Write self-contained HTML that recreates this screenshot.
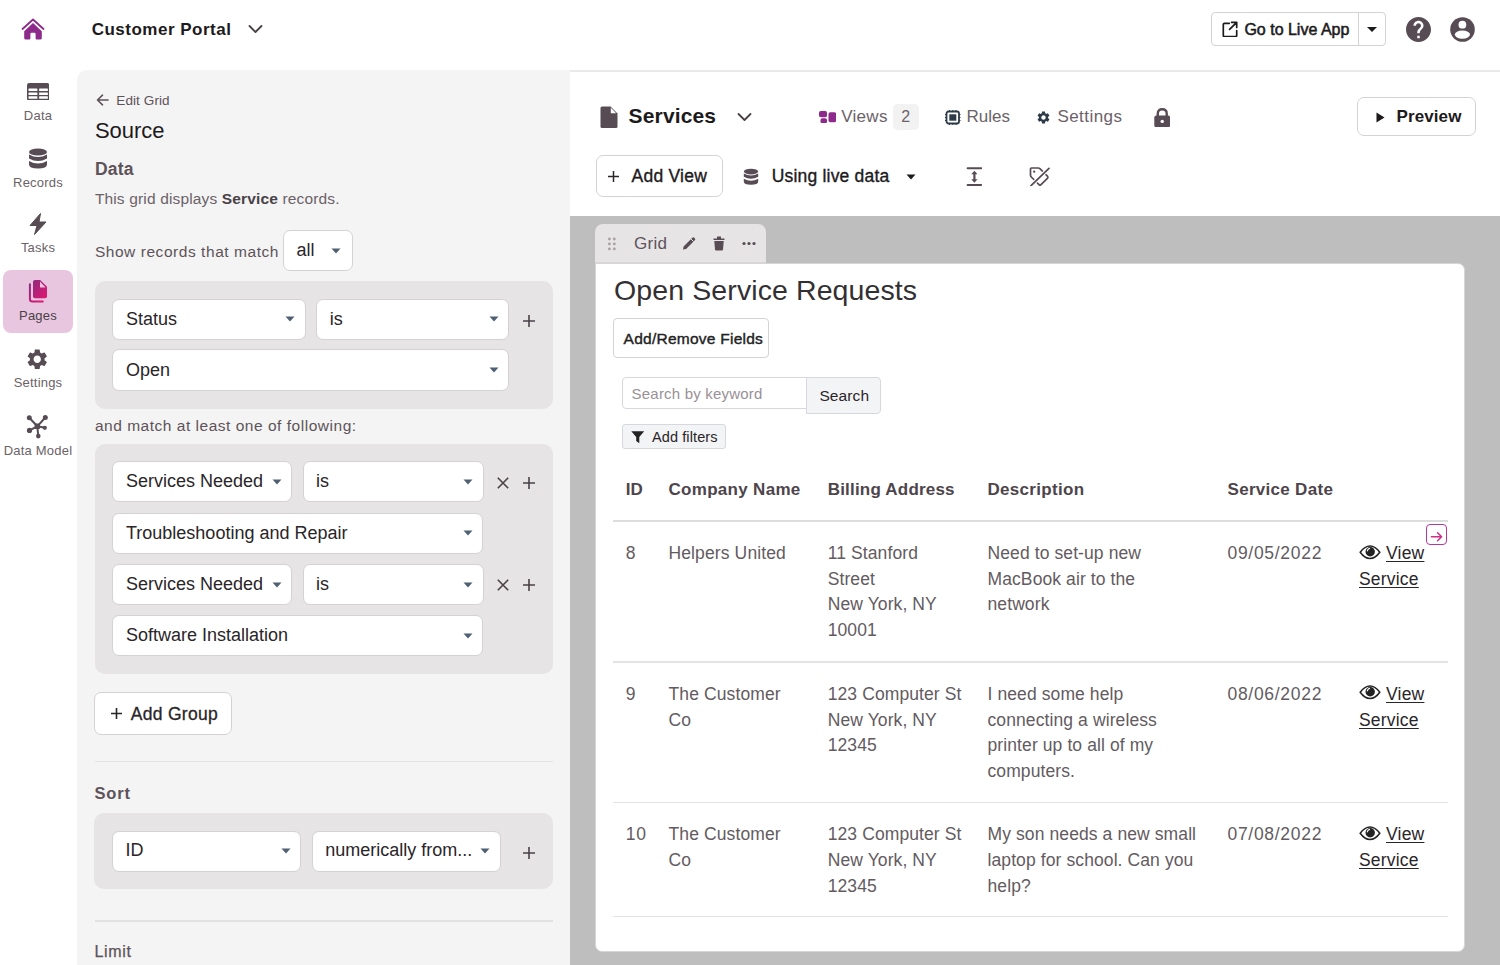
<!DOCTYPE html>
<html><head><meta charset="utf-8"><style>
html,body{margin:0;padding:0;width:1500px;height:965px;overflow:hidden;background:#fff;font-family:"Liberation Sans", sans-serif;}
.t{position:absolute;white-space:nowrap;}
.r{position:absolute;box-sizing:border-box;}
</style></head><body>
<div class="r" style="left:77px;top:70px;width:493px;height:895px;background:#f4f4f4;border-top-left-radius:10px;"></div>
<div class="r" style="left:570px;top:70px;width:930px;height:2px;background:#ebe8ea;"></div>
<div class="r" style="left:570px;top:216px;width:930px;height:749px;background:#bebebe;"></div>
<svg class="r" style="left:21px;top:18px;" width="24" height="23" viewBox="0 0 24 23"><path d="M1.5 11 L12 1.5 L22.5 11" fill="none" stroke="#8e2a8b" stroke-width="1.8" stroke-linecap="round" stroke-linejoin="round"/><path d="M12 4.9 L20.8 13.2 V20 Q20.8 21.5 19.3 21.5 H15.6 Q14.6 21.5 14.6 20.5 V16 Q14.6 14.7 13.3 14.7 H10.7 Q9.4 14.7 9.4 16 V20.5 Q9.4 21.5 8.4 21.5 H4.7 Q3.2 21.5 3.2 20 V13.2 Z" fill="#8e2a8b"/></svg>
<div class="t" style="left:91.7px;top:20.0px;font-size:17px;line-height:19.55px;color:#1d1a1c;font-weight:700;letter-spacing:0.5px;">Customer Portal</div>
<svg class="r" style="left:248px;top:24px;" width="15" height="10" viewBox="0 0 15 10"><path d="M1.5 2 L7.5 8 L13.5 2" fill="none" stroke="#4a4147" stroke-width="1.8" stroke-linecap="round" stroke-linejoin="round"/></svg>
<div class="r" style="left:1211px;top:12px;width:175px;height:34px;border:1px solid #d5d2d4;border-radius:4px;background:#fff;"></div>
<div class="r" style="left:1358px;top:13px;width:1px;height:32px;background:#d5d2d4;"></div>
<svg class="r" style="left:1222px;top:21px;" width="16" height="16" viewBox="0 0 16 16"><path d="M7.3 2.3 H2.4 Q1.3 2.3 1.3 3.4 V14.6 Q1.3 15.7 2.4 15.7 H13.6 Q14.7 15.7 14.7 14.6 V9.7" fill="none" stroke="#1d1a1c" stroke-width="1.7" stroke-linecap="round"/><path d="M9.6 1.3 H14.7 V6.4 M14.4 1.6 L7.6 8.4" fill="none" stroke="#1d1a1c" stroke-width="1.7" stroke-linecap="round" stroke-linejoin="round"/></svg>
<div class="t" style="left:1244.4px;top:20.5px;font-size:16px;line-height:18.4px;color:#1d1a1c;font-weight:400;letter-spacing:0px;-webkit-text-stroke:0.55px #1d1a1c;">Go to Live App</div>
<svg class="r" style="left:1366px;top:26px;" width="12" height="7" viewBox="0 0 12 7"><path d="M1 1 H11 L6 6 Z" fill="#1d1a1c"/></svg>
<svg class="r" style="left:1406px;top:17px;" width="25" height="25" viewBox="2 2 20 20"><path fill="#574c53" d="M12 2C6.48 2 2 6.48 2 12s4.48 10 10 10 10-4.48 10-10S17.52 2 12 2zm1 17h-2v-2h2v2zm2.07-7.75l-.9.92C13.450 12.9 13 13.5 13 15h-2v-.5c0-1.1.45-2.1 1.17-2.83l1.24-1.26c.37-.36.59-.86.59-1.41 0-1.1-.9-2-2-2s-2 .9-2 2H8c0-2.21 1.79-4 4-4s4 1.790 4 4c0 .88-.36 1.68-.93 2.25z"/></svg>
<svg class="r" style="left:1450px;top:17px;" width="25" height="25" viewBox="0 0 25 25"><circle cx="12.5" cy="12.5" r="12.3" fill="#574c53"/><circle cx="12.4" cy="7.7" r="3.9" fill="#fff"/><ellipse cx="12.4" cy="17.6" rx="7.6" ry="4.2" fill="#fff"/></svg>
<div class="r" style="left:3px;top:270px;width:70px;height:63px;background:#e8c6e0;border-radius:8px;"></div>
<svg class="r" style="left:26.7px;top:82.9px;" width="22.3" height="17.6" viewBox="0 0 22.3 17.6"><rect x="0" y="0" width="22.3" height="17.6" rx="2.2" fill="#574c53"/><g fill="#fff"><rect x="1.5" y="5.4" width="8.9" height="2.5" rx="0.5"/><rect x="12.1" y="5.4" width="8.8" height="2.5" rx="0.5"/><rect x="1.5" y="9.4" width="8.9" height="2.5" rx="0.5"/><rect x="12.1" y="9.4" width="8.8" height="2.5" rx="0.5"/><rect x="1.5" y="13.3" width="8.9" height="2.5" rx="0.5"/><rect x="12.1" y="13.3" width="8.8" height="2.5" rx="0.5"/></g></svg>
<div class="t" style="left:38.0px;top:108.5px;font-size:13px;line-height:14.95px;color:#6b6268;font-weight:400;letter-spacing:0.2px;transform:translateX(-50%);">Data</div>
<svg class="r" style="left:28px;top:148px;" width="20" height="21" viewBox="0 0 20 21"><ellipse cx="10" cy="4" rx="9" ry="3.6" fill="#574c53"/><path d="M1 6.5 Q10 11.5 19 6.5 V10.5 Q10 15.5 1 10.5 Z" fill="#574c53"/><path d="M1 13 Q10 18 19 13 V16.5 Q19 20.5 10 20.5 Q1 20.5 1 16.5 Z" fill="#574c53"/></svg>
<div class="t" style="left:38.0px;top:175.9px;font-size:13px;line-height:14.95px;color:#6b6268;font-weight:400;letter-spacing:0.2px;transform:translateX(-50%);">Records</div>
<svg class="r" style="left:28px;top:213px;" width="20" height="22" viewBox="0 0 20 22"><path d="M12.5 0.5 L2 12.5 H9 L6.5 21.5 L18 9 H11 Z" fill="#574c53" stroke="#574c53" stroke-width="1" stroke-linejoin="round"/></svg>
<div class="t" style="left:38.0px;top:240.9px;font-size:13px;line-height:14.95px;color:#6b6268;font-weight:400;letter-spacing:0.2px;transform:translateX(-50%);">Tasks</div>
<svg class="r" style="left:28px;top:279px;" width="21" height="25" viewBox="0 0 21 25"><defs><linearGradient id="pg" x1="0" y1="0" x2="1" y2="1"><stop offset="0" stop-color="#8f2a7e"/><stop offset="1" stop-color="#e2186f"/></linearGradient></defs><path d="M1.9 5.3 V20 Q1.9 22.6 4.5 22.6 H14.8" fill="none" stroke="url(#pg)" stroke-width="2" stroke-linecap="round"/><path d="M5 3 Q5 1 7 1 H12.2 L19 7.8 V17.3 Q19 19.3 17 19.3 H7 Q5 19.3 5 17.3 Z" fill="url(#pg)"/><path d="M12 2.6 V8.4 H17.6 Z" fill="#e8c6e0"/></svg>
<div class="t" style="left:38.0px;top:309.0px;font-size:13px;line-height:14.95px;color:#4a4147;font-weight:400;letter-spacing:0.2px;transform:translateX(-50%);">Pages</div>
<svg class="r" style="left:25.2px;top:347.2px;" width="24.5" height="24.5" viewBox="0 0 24 24"><path fill="#574c53" d="M19.14 12.94c.04-.3.06-.61.06-.94 0-.32-.02-.64-.07-.94l2.03-1.58a.49.49 0 0 0 .12-.61l-1.92-3.32a.488.488 0 0 0-.59-.22l-2.39.96c-.5-.38-1.03-.7-1.62-.94l-.36-2.54a.484.484 0 0 0-.48-.41h-3.84c-.24 0-.43.17-.47.41l-.36 2.54c-.59.24-1.13.57-1.62.94l-2.39-.96c-.22-.08-.47 0-.59.22L2.74 8.87c-.12.21-.08.47.12.61l2.03 1.58c-.05.3-.09.63-.09.94s.02.64.07.94l-2.03 1.58a.49.49 0 0 0-.12.61l1.92 3.32c.12.22.37.29.59.22l2.39-.96c.5.38 1.03.7 1.62.94l.36 2.54c.05.24.24.41.48.41h3.84c.24 0 .44-.17.47-.41l.36-2.54c.59-.24 1.13-.56 1.62-.94l2.39.96c.22.08.47 0 .59-.22l1.92-3.32c.12-.22.07-.47-.12-.61l-2.01-1.58zM12 15.6c-1.98 0-3.6-1.62-3.6-3.6s1.62-3.6 3.6-3.6 3.6 1.62 3.6 3.6-1.62 3.6-3.6 3.6z"/></svg>
<div class="t" style="left:38.0px;top:375.8px;font-size:13px;line-height:14.95px;color:#6b6268;font-weight:400;letter-spacing:0.2px;transform:translateX(-50%);">Settings</div>
<svg class="r" style="left:26px;top:414px;" width="23" height="26" viewBox="0 0 23 26"><g stroke="#574c53" stroke-width="2" stroke-linecap="round"><line x1="11.3" y1="12.3" x2="3.3" y2="3.8"/><line x1="11.3" y1="12.3" x2="19.3" y2="3.5"/><line x1="11.3" y1="12.3" x2="3.5" y2="16.4"/><line x1="11.3" y1="12.3" x2="18.8" y2="13.8"/><line x1="11.3" y1="12.3" x2="12.3" y2="22.1"/></g><g fill="#574c53"><circle cx="3.3" cy="3.8" r="2.5"/><circle cx="19.3" cy="3.5" r="2.5"/><circle cx="3.5" cy="16.4" r="2.6"/><circle cx="18.8" cy="13.8" r="2.1"/><circle cx="12.3" cy="22.1" r="2.3"/><rect x="8.6" y="9.6" width="5.4" height="5.4" rx="0.8"/></g></svg>
<div class="t" style="left:38.0px;top:443.8px;font-size:13px;line-height:14.95px;color:#6b6268;font-weight:400;letter-spacing:0.2px;transform:translateX(-50%);">Data Model</div>
<svg class="r" style="left:96px;top:94px;" width="13" height="12" viewBox="0 0 13 12"><path d="M12 6 H1.8 M6.5 1.2 L1.5 6 L6.5 10.8" fill="none" stroke="#5d5359" stroke-width="1.6" stroke-linecap="round" stroke-linejoin="round"/></svg>
<div class="t" style="left:116.3px;top:92.5px;font-size:13.5px;line-height:15.52px;color:#5d5359;font-weight:400;letter-spacing:0.1px;">Edit Grid</div>
<div class="t" style="left:94.9px;top:118.1px;font-size:22px;line-height:25.3px;color:#1d1a1c;font-weight:400;letter-spacing:0px;">Source</div>
<div class="t" style="left:94.9px;top:159.2px;font-size:17.5px;line-height:20.12px;color:#5d5359;font-weight:700;letter-spacing:0.2px;">Data</div>
<div class="t" style="left:94.9px;top:190.0px;font-size:15.5px;line-height:17.82px;color:#6b6268;font-weight:400;letter-spacing:0.15px;">This grid displays <b style="color:#4a4147">Service</b> records.</div>
<div class="t" style="left:94.9px;top:242.8px;font-size:15.5px;line-height:17.82px;color:#5d5359;font-weight:400;letter-spacing:0.55px;">Show records that match</div>
<div class="r" style="left:283px;top:229.6px;width:69.5px;height:41.400000000000006px;background:#fff;border:1px solid #d5d2d4;border-radius:7px;"></div>
<div class="t" style="left:296.5px;top:239.9px;font-size:18px;line-height:20.7px;color:#2a2528;font-weight:400;letter-spacing:0px;">all</div>
<svg class="r" style="left:331.2px;top:248px;" width="10" height="6" viewBox="0 0 10 6"><path d="M0.5 0.5 H9.5 L5 5.5 Z" fill="#4f6073"/></svg>
<div class="r" style="left:94.5px;top:281px;width:458.5px;height:127.60000000000002px;background:#e6e4e5;border-radius:10px;"></div>
<div class="r" style="left:112px;top:298.7px;width:194px;height:41.30000000000001px;background:#fff;border:1px solid #d5d2d4;border-radius:7px;"></div>
<div class="t" style="left:126.0px;top:309.4px;font-size:18px;line-height:20.7px;color:#2a2528;font-weight:400;letter-spacing:0px;">Status</div>
<svg class="r" style="left:285px;top:316.35px;" width="10" height="6" viewBox="0 0 10 6"><path d="M0.5 0.5 H9.5 L5 5.5 Z" fill="#4f6073"/></svg>
<div class="r" style="left:316px;top:298.7px;width:193px;height:41.30000000000001px;background:#fff;border:1px solid #d5d2d4;border-radius:7px;"></div>
<div class="t" style="left:329.7px;top:309.4px;font-size:18px;line-height:20.7px;color:#2a2528;font-weight:400;letter-spacing:0px;">is</div>
<svg class="r" style="left:488.5px;top:316.35px;" width="10" height="6" viewBox="0 0 10 6"><path d="M0.5 0.5 H9.5 L5 5.5 Z" fill="#4f6073"/></svg>
<svg class="r" style="left:522.5px;top:314.5px;" width="12" height="12" viewBox="0 0 12 12"><path d="M6.0 0 V12 M0 6.0 H12" stroke="#4a4147" stroke-width="1.6"/></svg>
<div class="r" style="left:112px;top:349.4px;width:397px;height:41.60000000000002px;background:#fff;border:1px solid #d5d2d4;border-radius:7px;"></div>
<div class="t" style="left:126.0px;top:360.0px;font-size:18px;line-height:20.7px;color:#2a2528;font-weight:400;letter-spacing:0px;">Open</div>
<svg class="r" style="left:488.5px;top:367.2px;" width="10" height="6" viewBox="0 0 10 6"><path d="M0.5 0.5 H9.5 L5 5.5 Z" fill="#4f6073"/></svg>
<div class="t" style="left:94.9px;top:417.4px;font-size:15.5px;line-height:17.82px;color:#5d5359;font-weight:400;letter-spacing:0.52px;">and match at least one of following:</div>
<div class="r" style="left:94.5px;top:443.5px;width:458.5px;height:230.29999999999995px;background:#e6e4e5;border-radius:10px;"></div>
<div class="r" style="left:112.4px;top:461px;width:179.99999999999997px;height:41px;background:#fff;border:1px solid #d5d2d4;border-radius:7px;"></div>
<div class="t" style="left:126.0px;top:471.0px;font-size:18px;line-height:20.7px;color:#2a2528;font-weight:400;letter-spacing:0px;">Services Needed</div>
<svg class="r" style="left:272.3px;top:478.5px;" width="10" height="6" viewBox="0 0 10 6"><path d="M0.5 0.5 H9.5 L5 5.5 Z" fill="#4f6073"/></svg>
<div class="r" style="left:303px;top:461px;width:180.5px;height:41px;background:#fff;border:1px solid #d5d2d4;border-radius:7px;"></div>
<div class="t" style="left:316.1px;top:471.0px;font-size:18px;line-height:20.7px;color:#2a2528;font-weight:400;letter-spacing:0px;">is</div>
<svg class="r" style="left:462.8px;top:478.5px;" width="10" height="6" viewBox="0 0 10 6"><path d="M0.5 0.5 H9.5 L5 5.5 Z" fill="#4f6073"/></svg>
<svg class="r" style="left:497.0px;top:476.5px;" width="12" height="12" viewBox="0 0 12 12"><path d="M0.8 0.8 L11.2 11.2 M11.2 0.8 L0.8 11.2" stroke="#4a4147" stroke-width="1.6"/></svg>
<svg class="r" style="left:522.7px;top:476.5px;" width="12" height="12" viewBox="0 0 12 12"><path d="M6.0 0 V12 M0 6.0 H12" stroke="#4a4147" stroke-width="1.6"/></svg>
<div class="r" style="left:112.4px;top:512.6px;width:371.1px;height:41.0px;background:#fff;border:1px solid #d5d2d4;border-radius:7px;"></div>
<div class="t" style="left:126.0px;top:522.6px;font-size:18px;line-height:20.7px;color:#2a2528;font-weight:400;letter-spacing:0px;">Troubleshooting and Repair</div>
<svg class="r" style="left:462.8px;top:530.1px;" width="10" height="6" viewBox="0 0 10 6"><path d="M0.5 0.5 H9.5 L5 5.5 Z" fill="#4f6073"/></svg>
<div class="r" style="left:112.4px;top:563.8px;width:179.99999999999997px;height:41.60000000000002px;background:#fff;border:1px solid #d5d2d4;border-radius:7px;"></div>
<div class="t" style="left:126.0px;top:574.0px;font-size:18px;line-height:20.7px;color:#2a2528;font-weight:400;letter-spacing:0px;">Services Needed</div>
<svg class="r" style="left:272.3px;top:581.5999999999999px;" width="10" height="6" viewBox="0 0 10 6"><path d="M0.5 0.5 H9.5 L5 5.5 Z" fill="#4f6073"/></svg>
<div class="r" style="left:303px;top:563.8px;width:180.5px;height:41.60000000000002px;background:#fff;border:1px solid #d5d2d4;border-radius:7px;"></div>
<div class="t" style="left:316.1px;top:574.0px;font-size:18px;line-height:20.7px;color:#2a2528;font-weight:400;letter-spacing:0px;">is</div>
<svg class="r" style="left:462.8px;top:581.5999999999999px;" width="10" height="6" viewBox="0 0 10 6"><path d="M0.5 0.5 H9.5 L5 5.5 Z" fill="#4f6073"/></svg>
<svg class="r" style="left:497.0px;top:579.3px;" width="12" height="12" viewBox="0 0 12 12"><path d="M0.8 0.8 L11.2 11.2 M11.2 0.8 L0.8 11.2" stroke="#4a4147" stroke-width="1.6"/></svg>
<svg class="r" style="left:522.7px;top:579.3px;" width="12" height="12" viewBox="0 0 12 12"><path d="M6.0 0 V12 M0 6.0 H12" stroke="#4a4147" stroke-width="1.6"/></svg>
<div class="r" style="left:112.4px;top:615.3px;width:371.1px;height:41.0px;background:#fff;border:1px solid #d5d2d4;border-radius:7px;"></div>
<div class="t" style="left:126.0px;top:625.3px;font-size:18px;line-height:20.7px;color:#2a2528;font-weight:400;letter-spacing:0px;">Software Installation</div>
<svg class="r" style="left:462.8px;top:632.8px;" width="10" height="6" viewBox="0 0 10 6"><path d="M0.5 0.5 H9.5 L5 5.5 Z" fill="#4f6073"/></svg>
<div class="r" style="left:94.4px;top:692.4px;width:137.29999999999998px;height:42.200000000000045px;background:#fff;border:1px solid #d5d2d4;border-radius:7px;"></div>
<svg class="r" style="left:111.3px;top:708.0px;" width="11" height="11" viewBox="0 0 11 11"><path d="M5.5 0 V11 M0 5.5 H11" stroke="#2a2528" stroke-width="1.6"/></svg>
<div class="t" style="left:130.7px;top:704.1px;font-size:17.5px;line-height:20.12px;color:#2a2528;font-weight:400;letter-spacing:0.3px;-webkit-text-stroke:0.3px #2a2528;">Add Group</div>
<div class="r" style="left:94.5px;top:760.5px;width:458.5px;height:1.5px;background:#e3e1e2;"></div>
<div class="t" style="left:94.4px;top:783.5px;font-size:16.5px;line-height:18.97px;color:#5d5359;font-weight:700;letter-spacing:0.9px;">Sort</div>
<div class="r" style="left:94.4px;top:813.4px;width:458.6px;height:75.80000000000007px;background:#e6e4e5;border-radius:10px;"></div>
<div class="r" style="left:112.2px;top:830.5px;width:189.2px;height:41.5px;background:#fff;border:1px solid #d5d2d4;border-radius:7px;"></div>
<div class="t" style="left:125.4px;top:839.9px;font-size:18px;line-height:20.7px;color:#2a2528;font-weight:400;letter-spacing:0px;">ID</div>
<svg class="r" style="left:280.7px;top:848.25px;" width="10" height="6" viewBox="0 0 10 6"><path d="M0.5 0.5 H9.5 L5 5.5 Z" fill="#4f6073"/></svg>
<div class="r" style="left:311.6px;top:830.8px;width:189.09999999999997px;height:41.200000000000045px;background:#fff;border:1px solid #d5d2d4;border-radius:7px;"></div>
<div class="t" style="left:325.2px;top:839.9px;font-size:18px;line-height:20.7px;color:#2a2528;font-weight:400;letter-spacing:0px;">numerically from...</div>
<svg class="r" style="left:480px;top:848.4px;" width="10" height="6" viewBox="0 0 10 6"><path d="M0.5 0.5 H9.5 L5 5.5 Z" fill="#4f6073"/></svg>
<svg class="r" style="left:522.6px;top:846.6px;" width="12" height="12" viewBox="0 0 12 12"><path d="M6.0 0 V12 M0 6.0 H12" stroke="#4a4147" stroke-width="1.6"/></svg>
<div class="r" style="left:94.5px;top:920.3px;width:458.5px;height:1.5px;background:#e3e1e2;"></div>
<div class="t" style="left:94.4px;top:943.3px;font-size:16px;line-height:18.4px;color:#5d5359;font-weight:400;letter-spacing:0.7px;-webkit-text-stroke:0.25px #5d5359;">Limit</div>
<svg class="r" style="left:600px;top:105.5px;" width="18" height="22.5" viewBox="0 0 18 22.5"><path d="M2 0.5 H10.5 L17.5 7.5 V20.5 Q17.5 22 16 22 H2 Q0.5 22 0.5 20.5 V2 Q0.5 0.5 2 0.5 Z" fill="#574c53"/><path d="M10.8 1.8 V7.2 H16.2 Z" fill="#fff"/></svg>
<div class="t" style="left:628.6px;top:104.1px;font-size:21px;line-height:24.15px;color:#1d1a1c;font-weight:700;letter-spacing:0.15px;">Services</div>
<svg class="r" style="left:737px;top:111.5px;" width="15" height="10" viewBox="0 0 15 10"><path d="M1.5 2 L7.5 8 L13.5 2" fill="none" stroke="#4a4147" stroke-width="1.8" stroke-linecap="round" stroke-linejoin="round"/></svg>
<svg class="r" style="left:818.5px;top:110.8px;" width="17.5" height="12.5" viewBox="0 0 17.5 12.5"><rect x="0" y="0" width="8" height="6.2" rx="1.8" fill="#8e2a8b"/><rect x="1.5" y="7.3" width="6.5" height="4.9" rx="1.8" fill="#8e2a8b"/><rect x="9.5" y="1.2" width="7.7" height="10" rx="1.8" fill="#8e2a8b"/></svg>
<div class="t" style="left:841.2px;top:107.4px;font-size:17px;line-height:19.55px;color:#6b6268;font-weight:400;letter-spacing:0.3px;">Views</div>
<div class="r" style="left:893px;top:104px;width:25.5px;height:25.599999999999994px;background:#f2f2f2;border-radius:5px;"></div>
<div class="t" style="left:901.2px;top:108.4px;font-size:16px;line-height:18.4px;color:#6b6268;font-weight:400;letter-spacing:0px;">2</div>
<svg class="r" style="left:945px;top:109.8px;" width="15.5" height="15" viewBox="0 0 15.5 15"><rect x="1.5" y="1.5" width="12.5" height="12" rx="2" fill="none" stroke="#2d3b48" stroke-width="1.8"/><rect x="4.3" y="4.3" width="7" height="6.4" fill="#2d3b48"/><g stroke="#2d3b48" stroke-width="1"><path d="M4.5 0 V1.5 M7.75 0 V1.5 M11 0 V1.5 M4.5 13.5 V15 M7.75 13.5 V15 M11 13.5 V15 M0 4.5 H1.5 M0 7.5 H1.5 M0 10.5 H1.5 M14 4.5 H15.5 M14 7.5 H15.5 M14 10.5 H15.5"/></g></svg>
<div class="t" style="left:966.5px;top:107.4px;font-size:17px;line-height:19.55px;color:#6b6268;font-weight:400;letter-spacing:0.0px;">Rules</div>
<svg class="r" style="left:1036px;top:110px;" width="15" height="15" viewBox="0 0 24 24"><path fill="#2d3b48" d="M19.14 12.94c.04-.3.06-.61.06-.94 0-.32-.02-.64-.07-.94l2.03-1.58a.49.49 0 0 0 .12-.61l-1.92-3.32a.488.488 0 0 0-.59-.22l-2.39.96c-.5-.38-1.03-.7-1.62-.94l-.36-2.54a.484.484 0 0 0-.48-.41h-3.84c-.24 0-.43.17-.47.41l-.36 2.54c-.59.24-1.13.57-1.620.94l-2.39-.96c-.22-.08-.47 0-.59.22L2.74 8.87c-.12.21-.08.47.12.61l2.03 1.58c-.05.3-.09.63-.09.94s.02.64.07.94l-2.03 1.58a.49.49 0 0 0-.12.61l1.92 3.32c.12.22.37.29.59.22l2.390-.96c.5.38 1.03.7 1.62.94l.36 2.54c.05.24.24.41.48.41h3.84c.24 0 .44-.17.47-.41l.36-2.54c.59-.24 1.13-.56 1.62-.94l2.39.96c.22.08.47 0 .59-.22l1.92-3.32c.12-.22.07-.47-.12-.61l-2.01-1.58zM12 15.6c-1.98 0-3.6-1.62-3.6-3.6s1.62-3.6 3.6-3.6 3.6 1.62 3.6 3.6-1.62 3.6-3.6 3.6z"/></svg>
<div class="t" style="left:1057.4px;top:107.4px;font-size:17px;line-height:19.55px;color:#6b6268;font-weight:400;letter-spacing:0.45px;">Settings</div>
<svg class="r" style="left:1153.5px;top:107.5px;" width="16.5" height="19.5" viewBox="0 0 16.5 19.5"><path d="M3.8 8 V5.5 Q3.8 1.2 8.25 1.2 Q12.7 1.2 12.7 5.5 V8" fill="none" stroke="#574c53" stroke-width="2.4"/><rect x="0.3" y="7.5" width="15.9" height="11.8" rx="2" fill="#574c53"/><circle cx="8.25" cy="13.4" r="1.7" fill="#fff"/></svg>
<div class="r" style="left:1356.5px;top:97.3px;width:119.20000000000005px;height:38.39999999999999px;background:#fff;border:1px solid #d5d2d4;border-radius:7px;"></div>
<svg class="r" style="left:1375.5px;top:111.5px;" width="9" height="11" viewBox="0 0 9 11"><path d="M0.5 0.5 L8.5 5.5 L0.5 10.5 Z" fill="#1d1a1c"/></svg>
<div class="t" style="left:1396.5px;top:107.2px;font-size:17px;line-height:19.55px;color:#1d1a1c;font-weight:700;letter-spacing:0.1px;">Preview</div>
<div class="r" style="left:596.2px;top:155px;width:126.79999999999995px;height:41.80000000000001px;background:#fff;border:1px solid #d5d2d4;border-radius:7px;"></div>
<svg class="r" style="left:608.1px;top:170.5px;" width="11" height="11" viewBox="0 0 11 11"><path d="M5.5 0 V11 M0 5.5 H11" stroke="#2a2528" stroke-width="1.5"/></svg>
<div class="t" style="left:631.5px;top:166.1px;font-size:17.5px;line-height:20.12px;color:#1d1a1c;font-weight:400;letter-spacing:0.25px;-webkit-text-stroke:0.35px #1d1a1c;">Add View</div>
<svg class="r" style="left:743.3px;top:167.5px;" width="16" height="17.5" viewBox="0 0 20 21"><ellipse cx="10" cy="4" rx="9" ry="3.6" fill="#574c53"/><path d="M1 6.5 Q10 11.5 19 6.5 V10.5 Q10 15.5 1 10.5 Z" fill="#574c53"/><path d="M1 13 Q10 18 19 13 V16.5 Q19 20.5 10 20.5 Q1 20.5 1 16.5 Z" fill="#574c53"/></svg>
<div class="t" style="left:771.7px;top:166.3px;font-size:17.5px;line-height:20.12px;color:#1d1a1c;font-weight:400;letter-spacing:0.2px;-webkit-text-stroke:0.35px #1d1a1c;">Using live data</div>
<svg class="r" style="left:906px;top:173.8px;" width="10" height="6" viewBox="0 0 10 6"><path d="M0.5 0.5 H9.5 L5 5.5 Z" fill="#1d1a1c"/></svg>
<svg class="r" style="left:965.5px;top:166.5px;" width="16.5" height="19.5" viewBox="0 0 16.5 19.5"><path d="M1.6 1.3 H15.2 M1.6 17.9 H15.2" stroke="#574c53" stroke-width="2" stroke-linecap="round"/><path d="M5.3 7.2 L8.4 3.7 L11.5 7.2 Z M5.3 12.2 L8.4 15.7 L11.5 12.2 Z" fill="#574c53"/><rect x="7.3" y="6" width="2.2" height="7.5" fill="#574c53"/></svg>
<svg class="r" style="left:1028.5px;top:166.5px;" width="21.5" height="19.5" viewBox="0 0 21.5 19.5"><path d="M2.5 1 H9.2 Q10.2 1 10.9 1.7 L18.4 9.2 Q19.4 10.3 18.4 11.3 L12 17.7 Q11 18.7 10 17.7 L2.3 10 Q1.5 9.2 1.5 8.2 V2 Q1.5 1 2.5 1 Z" fill="none" stroke="#574c53" stroke-width="1.7" stroke-linejoin="round"/><circle cx="5.2" cy="4.7" r="1.15" fill="#574c53"/><path d="M2 18.7 L20 1.3" stroke="#fff" stroke-width="4"/><path d="M2 18.7 L20 1.3" stroke="#574c53" stroke-width="1.7" stroke-linecap="round"/></svg>
<div class="r" style="left:595px;top:224.4px;width:170.60000000000002px;height:38.599999999999994px;background:#e6e4e5;border-radius:8px 8px 0 0;border-bottom:1px solid #d8d6d7;"></div>
<svg class="r" style="left:607px;top:236.5px;" width="10" height="14" viewBox="0 0 10 14"><g fill="#a9a2a7"><circle cx="2.4" cy="2" r="1.45"/><circle cx="7.3" cy="2" r="1.45"/><circle cx="2.4" cy="6.9" r="1.45"/><circle cx="7.3" cy="6.9" r="1.45"/><circle cx="2.4" cy="11.9" r="1.45"/><circle cx="7.3" cy="11.9" r="1.45"/></g></svg>
<div class="t" style="left:634.0px;top:233.9px;font-size:17px;line-height:19.55px;color:#5d5359;font-weight:400;letter-spacing:0.3px;">Grid</div>
<svg class="r" style="left:681.5px;top:236.3px;" width="14.5" height="14.5" viewBox="0 0 14.5 14.5"><path d="M1 13.5 L1.6 10.4 L10.3 1.7 Q11.3 0.7 12.3 1.7 L12.8 2.2 Q13.8 3.2 12.8 4.2 L4.1 12.9 Z" fill="#574c53"/><path d="M9 3 L11.5 5.5" stroke="#e6e4e5" stroke-width="1"/></svg>
<svg class="r" style="left:713px;top:236px;" width="12" height="15" viewBox="0 0 12 15"><path d="M0.5 2.5 H11.5 V4 H0.5 Z M4 0.5 H8 V2.5 H4 Z" fill="#574c53"/><path d="M1.3 5 H10.7 L10 13.6 Q9.9 14.6 8.9 14.6 H3.1 Q2.1 14.6 2 13.6 Z" fill="#574c53"/></svg>
<svg class="r" style="left:742px;top:241px;" width="14" height="5" viewBox="0 0 14 5"><g fill="#574c53"><circle cx="2" cy="2.5" r="1.6"/><circle cx="7" cy="2.5" r="1.6"/><circle cx="12" cy="2.5" r="1.6"/></g></svg>
<div class="r" style="left:595px;top:262.5px;width:870px;height:689.0px;background:#fff;border-radius:0 7px 7px 7px;border:1px solid #d6d6d6;"></div>
<div class="t" style="left:614.1px;top:273.9px;font-size:28.5px;line-height:32.77px;color:#333033;font-weight:400;letter-spacing:0.1px;">Open Service Requests</div>
<div class="r" style="left:613.4px;top:318.4px;width:156.0px;height:40.0px;background:#fff;border:1px solid #d5d2d4;border-radius:4px;"></div>
<div class="t" style="left:623.6px;top:330.3px;font-size:15.5px;line-height:17.82px;color:#222;font-weight:400;letter-spacing:0.25px;-webkit-text-stroke:0.4px #222;">Add/Remove Fields</div>
<div class="r" style="left:622px;top:376.6px;width:185px;height:32.799999999999955px;background:#fff;border:1px solid #d6d8dd;border-radius:4px 0 0 4px;"></div>
<div class="t" style="left:631.6px;top:384.8px;font-size:15px;line-height:17.25px;color:#9a9097;font-weight:400;letter-spacing:0.2px;">Search by keyword</div>
<div class="r" style="left:806px;top:376.6px;width:75px;height:37.799999999999955px;background:#f3f4f6;border:1px solid #d6d8dd;border-radius:0 4px 4px 0;"></div>
<div class="t" style="left:819.4px;top:387.1px;font-size:15.5px;line-height:17.82px;color:#2a2528;font-weight:400;letter-spacing:0.1px;">Search</div>
<div class="r" style="left:622px;top:424.4px;width:104.39999999999998px;height:24.200000000000045px;background:#f3f4f6;border:1px solid #d6d8dd;border-radius:3px;"></div>
<svg class="r" style="left:631px;top:431px;" width="13.5" height="12.5" viewBox="0 0 13.5 12.5"><path d="M0.3 0.3 H13.2 L8.3 6 V12.2 L5.2 10 V6 Z" fill="#222"/></svg>
<div class="t" style="left:652.0px;top:428.6px;font-size:14.5px;line-height:16.67px;color:#2a2528;font-weight:400;letter-spacing:0.1px;">Add filters</div>
<div class="t" style="left:625.8px;top:479.8px;font-size:17px;line-height:19.55px;color:#4d454b;font-weight:700;letter-spacing:0px;">ID</div>
<div class="t" style="left:668.5px;top:479.8px;font-size:17px;line-height:19.55px;color:#4d454b;font-weight:700;letter-spacing:0.3px;">Company Name</div>
<div class="t" style="left:827.7px;top:479.8px;font-size:17px;line-height:19.55px;color:#4d454b;font-weight:700;letter-spacing:0.2px;">Billing Address</div>
<div class="t" style="left:987.5px;top:479.8px;font-size:17px;line-height:19.55px;color:#4d454b;font-weight:700;letter-spacing:0.3px;">Description</div>
<div class="t" style="left:1227.5px;top:479.8px;font-size:17px;line-height:19.55px;color:#4d454b;font-weight:700;letter-spacing:0.3px;">Service Date</div>
<div class="r" style="left:612.5px;top:520px;width:835.0px;height:2px;background:#dcdcdc;"></div>
<div class="t" style="left:625.8px;top:543.1px;font-size:17.5px;line-height:20.12px;color:#635b61;font-weight:400;letter-spacing:0.6px;">8</div>
<div class="t" style="left:668.5px;top:543.1px;font-size:17.5px;line-height:20.12px;color:#635b61;font-weight:400;letter-spacing:0.12px;">Helpers United</div>
<div class="t" style="left:827.7px;top:543.1px;font-size:17.5px;line-height:20.12px;color:#635b61;font-weight:400;letter-spacing:0.1px;">11 Stanford</div>
<div class="t" style="left:827.7px;top:568.7px;font-size:17.5px;line-height:20.12px;color:#635b61;font-weight:400;letter-spacing:0.1px;">Street</div>
<div class="t" style="left:827.7px;top:594.4px;font-size:17.5px;line-height:20.12px;color:#635b61;font-weight:400;letter-spacing:0.1px;">New York, NY</div>
<div class="t" style="left:827.7px;top:620.0px;font-size:17.5px;line-height:20.12px;color:#635b61;font-weight:400;letter-spacing:0.1px;">10001</div>
<div class="t" style="left:987.5px;top:543.1px;font-size:17.5px;line-height:20.12px;color:#635b61;font-weight:400;letter-spacing:0.1px;">Need to set-up new</div>
<div class="t" style="left:987.5px;top:568.7px;font-size:17.5px;line-height:20.12px;color:#635b61;font-weight:400;letter-spacing:0.1px;">MacBook air to the</div>
<div class="t" style="left:987.5px;top:594.4px;font-size:17.5px;line-height:20.12px;color:#635b61;font-weight:400;letter-spacing:0.1px;">network</div>
<div class="t" style="left:1227.5px;top:543.1px;font-size:17.5px;line-height:20.12px;color:#635b61;font-weight:400;letter-spacing:0.7px;">09/05/2022</div>
<svg class="r" style="left:1358.5px;top:544.5px;" width="22" height="15" viewBox="0 0 22 15"><path d="M1.2 7.2 Q5.8 0.9 11 0.9 Q16.2 0.9 20.8 7.2 Q16.2 13.5 11 13.5 Q5.8 13.5 1.2 7.2 Z" fill="none" stroke="#222" stroke-width="1.5"/><circle cx="11.2" cy="6.7" r="4.7" fill="#222"/><path d="M8.3 5.9 Q8.7 3.9 10.6 3.4" fill="none" stroke="#fff" stroke-width="1.1" stroke-linecap="round"/></svg>
<div class="t" style="left:1386.0px;top:543.1px;font-size:17.5px;line-height:20.12px;color:#2a2528;font-weight:400;letter-spacing:0.2px;text-decoration:underline;text-underline-offset:2px;">View</div>
<div class="t" style="left:1359.0px;top:568.7px;font-size:17.5px;line-height:20.12px;color:#2a2528;font-weight:400;letter-spacing:0.2px;text-decoration:underline;text-underline-offset:2px;">Service</div>
<div class="r" style="left:612.5px;top:661px;width:835.0px;height:1.5px;background:#e3e3e3;"></div>
<div class="t" style="left:625.8px;top:683.9px;font-size:17.5px;line-height:20.12px;color:#635b61;font-weight:400;letter-spacing:0.6px;">9</div>
<div class="t" style="left:668.5px;top:683.9px;font-size:17.5px;line-height:20.12px;color:#635b61;font-weight:400;letter-spacing:0.12px;">The Customer</div>
<div class="t" style="left:668.5px;top:709.5px;font-size:17.5px;line-height:20.12px;color:#635b61;font-weight:400;letter-spacing:0.12px;">Co</div>
<div class="t" style="left:827.7px;top:683.9px;font-size:17.5px;line-height:20.12px;color:#635b61;font-weight:400;letter-spacing:0.1px;">123 Computer St</div>
<div class="t" style="left:827.7px;top:709.5px;font-size:17.5px;line-height:20.12px;color:#635b61;font-weight:400;letter-spacing:0.1px;">New York, NY</div>
<div class="t" style="left:827.7px;top:735.2px;font-size:17.5px;line-height:20.12px;color:#635b61;font-weight:400;letter-spacing:0.1px;">12345</div>
<div class="t" style="left:987.5px;top:683.9px;font-size:17.5px;line-height:20.12px;color:#635b61;font-weight:400;letter-spacing:0.1px;">I need some help</div>
<div class="t" style="left:987.5px;top:709.5px;font-size:17.5px;line-height:20.12px;color:#635b61;font-weight:400;letter-spacing:0.1px;">connecting a wireless</div>
<div class="t" style="left:987.5px;top:735.2px;font-size:17.5px;line-height:20.12px;color:#635b61;font-weight:400;letter-spacing:0.1px;">printer up to all of my</div>
<div class="t" style="left:987.5px;top:760.8px;font-size:17.5px;line-height:20.12px;color:#635b61;font-weight:400;letter-spacing:0.1px;">computers.</div>
<div class="t" style="left:1227.5px;top:683.9px;font-size:17.5px;line-height:20.12px;color:#635b61;font-weight:400;letter-spacing:0.7px;">08/06/2022</div>
<svg class="r" style="left:1358.5px;top:685.3px;" width="22" height="15" viewBox="0 0 22 15"><path d="M1.2 7.2 Q5.8 0.9 11 0.9 Q16.2 0.9 20.8 7.2 Q16.2 13.5 11 13.5 Q5.8 13.5 1.2 7.2 Z" fill="none" stroke="#222" stroke-width="1.5"/><circle cx="11.2" cy="6.7" r="4.7" fill="#222"/><path d="M8.3 5.9 Q8.7 3.9 10.6 3.4" fill="none" stroke="#fff" stroke-width="1.1" stroke-linecap="round"/></svg>
<div class="t" style="left:1386.0px;top:683.9px;font-size:17.5px;line-height:20.12px;color:#2a2528;font-weight:400;letter-spacing:0.2px;text-decoration:underline;text-underline-offset:2px;">View</div>
<div class="t" style="left:1359.0px;top:709.5px;font-size:17.5px;line-height:20.12px;color:#2a2528;font-weight:400;letter-spacing:0.2px;text-decoration:underline;text-underline-offset:2px;">Service</div>
<div class="r" style="left:612.5px;top:801.5px;width:835.0px;height:1.5px;background:#e3e3e3;"></div>
<div class="t" style="left:625.8px;top:824.4px;font-size:17.5px;line-height:20.12px;color:#635b61;font-weight:400;letter-spacing:0.6px;">10</div>
<div class="t" style="left:668.5px;top:824.4px;font-size:17.5px;line-height:20.12px;color:#635b61;font-weight:400;letter-spacing:0.12px;">The Customer</div>
<div class="t" style="left:668.5px;top:850.0px;font-size:17.5px;line-height:20.12px;color:#635b61;font-weight:400;letter-spacing:0.12px;">Co</div>
<div class="t" style="left:827.7px;top:824.4px;font-size:17.5px;line-height:20.12px;color:#635b61;font-weight:400;letter-spacing:0.1px;">123 Computer St</div>
<div class="t" style="left:827.7px;top:850.0px;font-size:17.5px;line-height:20.12px;color:#635b61;font-weight:400;letter-spacing:0.1px;">New York, NY</div>
<div class="t" style="left:827.7px;top:875.7px;font-size:17.5px;line-height:20.12px;color:#635b61;font-weight:400;letter-spacing:0.1px;">12345</div>
<div class="t" style="left:987.5px;top:824.4px;font-size:17.5px;line-height:20.12px;color:#635b61;font-weight:400;letter-spacing:0.1px;">My son needs a new small</div>
<div class="t" style="left:987.5px;top:850.0px;font-size:17.5px;line-height:20.12px;color:#635b61;font-weight:400;letter-spacing:0.1px;">laptop for school. Can you</div>
<div class="t" style="left:987.5px;top:875.7px;font-size:17.5px;line-height:20.12px;color:#635b61;font-weight:400;letter-spacing:0.1px;">help?</div>
<div class="t" style="left:1227.5px;top:824.4px;font-size:17.5px;line-height:20.12px;color:#635b61;font-weight:400;letter-spacing:0.7px;">07/08/2022</div>
<svg class="r" style="left:1358.5px;top:825.8px;" width="22" height="15" viewBox="0 0 22 15"><path d="M1.2 7.2 Q5.8 0.9 11 0.9 Q16.2 0.9 20.8 7.2 Q16.2 13.5 11 13.5 Q5.8 13.5 1.2 7.2 Z" fill="none" stroke="#222" stroke-width="1.5"/><circle cx="11.2" cy="6.7" r="4.7" fill="#222"/><path d="M8.3 5.9 Q8.7 3.9 10.6 3.4" fill="none" stroke="#fff" stroke-width="1.1" stroke-linecap="round"/></svg>
<div class="t" style="left:1386.0px;top:824.4px;font-size:17.5px;line-height:20.12px;color:#2a2528;font-weight:400;letter-spacing:0.2px;text-decoration:underline;text-underline-offset:2px;">View</div>
<div class="t" style="left:1359.0px;top:850.0px;font-size:17.5px;line-height:20.12px;color:#2a2528;font-weight:400;letter-spacing:0.2px;text-decoration:underline;text-underline-offset:2px;">Service</div>
<div class="r" style="left:612.5px;top:915.8px;width:835.0px;height:1.5px;background:#e3e3e3;"></div>
<div class="r" style="left:1426px;top:524.3px;width:21.200000000000045px;height:21.0px;border:1.6px solid #b2399f;border-radius:4px;"></div>
<svg class="r" style="left:1429px;top:529px;" width="15.5" height="15.5" viewBox="0 0 15.5 15.5"><path d="M2.4 7.75 H12.6 M8.6 3.8 L12.6 7.75 L8.6 11.7" fill="none" stroke="#cf2f86" stroke-width="1.5" stroke-linecap="round" stroke-linejoin="round"/></svg>
</body></html>
